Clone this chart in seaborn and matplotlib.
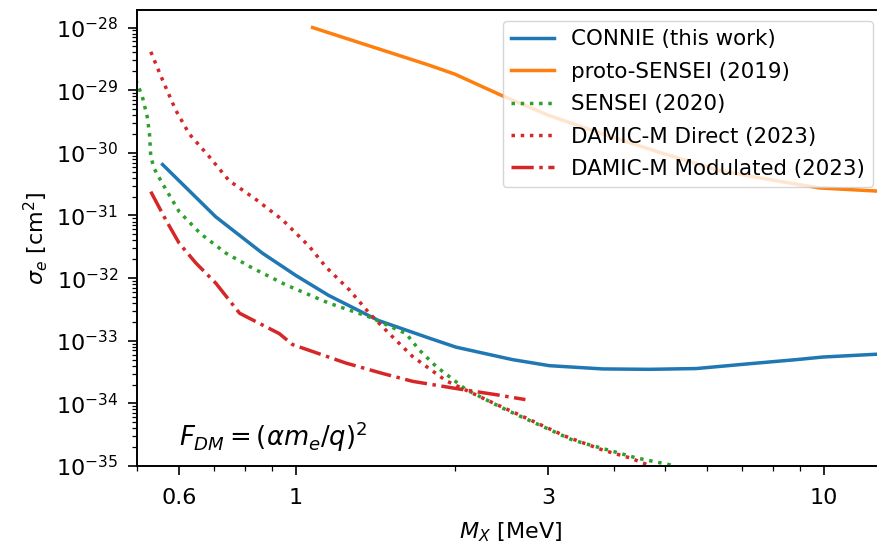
import numpy as np
import pandas as pd
import matplotlib
matplotlib.use("Agg")
import matplotlib.pyplot as plt
from matplotlib.ticker import NullFormatter
import seaborn as sns

# values (M_X in MeV, sigma_e in cm^2)
connie_x = [0.559, 0.705, 0.864, 1.0, 1.153, 1.434, 1.789, 2.01, 2.57,
            3.02, 3.81, 4.67, 5.73, 7.23, 8.87, 9.96, 12.6, 14.0]
connie_y = [6.5e-31, 9.5e-32, 2.5e-32, 1.1e-32, 5.3e-33, 2.1e-33, 1.1e-33,
            7.9e-34, 5.0e-34, 4.0e-34, 3.55e-34, 3.5e-34, 3.6e-34, 4.3e-34,
            5.0e-34, 5.5e-34, 6.1e-34, 6.5e-34]

proto_x = [1.075, 1.789, 2.0, 2.447, 3.0, 3.81, 4.95, 6.34, 8.24, 9.81, 12.6, 14.0]
proto_y = [1.0e-28, 2.5e-29, 1.8e-29, 8.3e-30, 4.0e-30, 2.0e-30, 9.8e-31,
           5.2e-31, 3.5e-31, 2.75e-31, 2.45e-31, 2.4e-31]

sensei_x = [0.49, 0.503, 0.512, 0.523, 0.528, 0.531, 0.539, 0.559, 0.601, 0.66,
            0.737, 0.827, 0.957, 1.153, 1.377, 1.616, 1.713, 1.842, 2.10, 2.50,
            3.34, 4.41, 5.10, 5.5]
sensei_y = [2e-29, 1.15e-29, 7.8e-30, 3.7e-30, 2.0e-30, 8.7e-31, 5.6e-31, 3.2e-31,
            1.15e-31, 5.1e-32, 2.5e-32, 1.45e-32, 7.8e-33, 4.0e-33, 2.4e-33,
            1.3e-33, 7.1e-34, 3.9e-34, 1.66e-34, 7.9e-35, 2.6e-35, 1.35e-35,
            1.05e-35, 7.9e-36]

direct_x = [0.531, 0.559, 0.592, 0.628, 0.685, 0.747, 0.840, 0.943, 1.06, 1.14,
            1.262, 1.377, 1.502, 1.663, 1.924, 2.29, 2.77, 3.25, 3.81, 4.29, 4.7]
direct_y = [4.1e-29, 1.45e-29, 4.8e-30, 2.0e-30, 8.7e-31, 3.6e-31, 1.8e-31,
            8.5e-32, 3.2e-32, 1.5e-32, 6.5e-33, 2.75e-33, 1.3e-33, 5.6e-34,
            2.3e-34, 1.15e-34, 5.5e-35, 2.95e-35, 1.8e-35, 1.35e-35, 1.0e-35]

modul_x = [0.531, 0.567, 0.601, 0.646, 0.705, 0.782, 0.930, 0.985, 1.244, 1.46,
           1.663, 2.07, 2.39, 2.72]
modul_y = [2.4e-31, 8.5e-32, 3.6e-32, 1.75e-32, 8.3e-33, 2.75e-33, 1.3e-33,
           8.7e-34, 4.4e-34, 3.0e-34, 2.25e-34, 1.66e-34, 1.38e-34, 1.15e-34]

x_ticks = [0.6, 1, 3, 10]
x_ticklabels = ["0.6", "1", "3", "10"]
y_ticks = [1e-35, 1e-34, 1e-33, 1e-32, 1e-31, 1e-30, 1e-29, 1e-28]

series = [
    ("CONNIE (this work)", connie_x, connie_y, "#1f77b4", "-"),
    ("proto-SENSEI (2019)", proto_x, proto_y, "#ff7f0e", "-"),
    ("SENSEI (2020)", sensei_x, sensei_y, "#2ca02c", ":"),
    ("DAMIC-M Direct (2023)", direct_x, direct_y, "#d62728", ":"),
    ("DAMIC-M Modulated (2023)", modul_x, modul_y, "#d62728", "-."),
]

fig = plt.figure(figsize=(8.77, 5.47), dpi=100)
ax = fig.add_axes([0.1562, 0.148, 0.852, 0.8336])

for name, xs, ys, color, ls in series:
    df = pd.DataFrame({"mx": xs, "sigma": ys})
    sns.lineplot(data=df, x="mx", y="sigma", ax=ax, color=color, linestyle=ls,
                 linewidth=2.5, label=name, sort=False)

ax.set_xscale("log")
ax.set_yscale("log")
ax.set_xlim(0.5, 13)
ax.set_ylim(1e-35, 1.9e-28)

ax.set_xticks(x_ticks)
ax.set_xticklabels(x_ticklabels)
ax.xaxis.set_minor_formatter(NullFormatter())
ax.set_yticks(y_ticks)
ax.yaxis.set_minor_formatter(NullFormatter())

ax.tick_params(which="major", labelsize=16, length=6.5, width=1.2)
ax.tick_params(axis="x", which="major", pad=9)
ax.tick_params(axis="y", which="major", pad=7)
ax.tick_params(which="minor", length=3.5, width=0.9)
for sp in ax.spines.values():
    sp.set_linewidth(1.4)

ax.set_xlabel(r"$M_X$ [MeV]", fontsize=16, labelpad=9)
ax.set_ylabel(r"$\sigma_e$ [cm$^2$]", fontsize=16, labelpad=4)

ax.text(0.6, 2.9e-35, r"$F_{DM} = (\alpha m_e/q)^2$", fontsize=18.6,
        ha="left", va="center")

ax.legend(loc="upper right", fontsize=15.4, handlelength=2.0, labelspacing=0.58)

fig.savefig("out.png", dpi=100)
